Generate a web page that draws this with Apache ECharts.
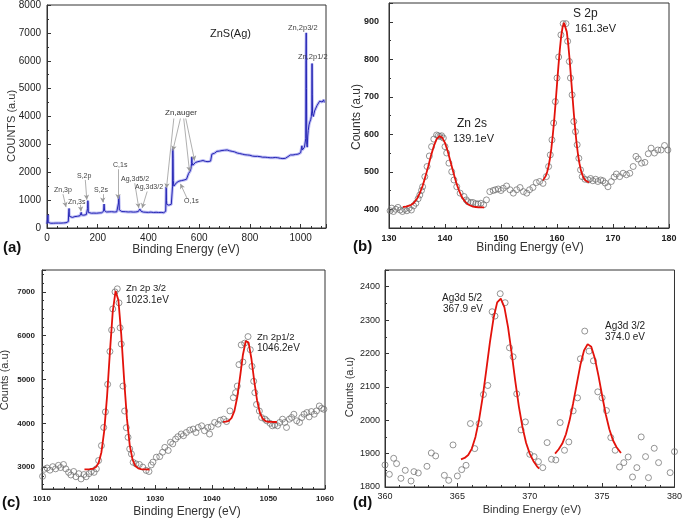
<!DOCTYPE html>
<html><head><meta charset="utf-8">
<script src="https://cdn.jsdelivr.net/npm/echarts/dist/echarts.min.js"></script>
<style>html,body{margin:0;padding:0;background:#fff}#c{width:685px;height:520px}</style>
</head><body><div id="c"></div>
<script>
// ---------- DATA ----------
// (a) survey spectrum [binding energy eV, counts]
const surveyData = [[0,150],[2,160],[4,470],[5,200],[7,160],[10,165],[15,170],[20,168],[25,172],[30,170],[35,175],[40,172],[45,176],[50,178],[55,175],[60,180],[65,182],[70,185],[75,190],[80,200],[84,230],[86,600],[87,700],[88,420],[90,360],[95,350],[100,380],[105,400],[110,410],[115,400],[120,420],[125,430],[130,440],[133,450],[135,560],[136,470],[140,450],[145,460],[150,470],[155,480],[158,500],[160,700],[161,980],[162,900],[163,560],[165,510],[170,520],[175,530],[180,520],[185,535],[190,540],[195,530],[200,545],[205,540],[210,550],[215,545],[220,560],[223,600],[225,860],[226,800],[227,620],[230,570],[235,575],[240,565],[245,580],[250,570],[255,585],[260,580],[265,575],[270,590],[275,580],[280,600],[282,900],[283,1180],[284,1000],[285,650],[287,600],[290,585],[295,590],[300,580],[310,585],[320,575],[330,580],[340,570],[350,575],[360,590],[363,640],[366,680],[368,650],[371,600],[374,640],[377,600],[380,570],[390,565],[400,560],[410,570],[420,555],[430,565],[440,555],[450,560],[460,550],[465,560],[468,600],[469,1000],[470,1480],[471,1000],[472,850],[475,830],[480,820],[485,860],[490,850],[493,900],[495,1500],[496,2850],[497,2500],[498,1700],[500,1500],[505,1550],[510,1620],[515,1600],[520,1680],[525,1620],[530,1700],[535,1650],[540,1720],[545,1680],[550,1750],[555,1800],[558,1950],[560,2000],[562,1900],[565,2050],[568,2150],[570,2300],[571,2550],[572,2350],[575,2250],[580,2300],[585,2350],[590,2320],[595,2380],[600,2350],[605,2400],[610,2380],[615,2420],[620,2350],[625,2390],[630,2420],[635,2380],[640,2430],[645,2400],[648,2450],[650,2650],[655,2700],[660,2680],[665,2720],[670,2750],[675,2730],[680,2760],[685,2740],[690,2780],[695,2760],[700,2790],[705,2770],[710,2800],[715,2760],[720,2770],[725,2740],[730,2750],[735,2720],[740,2730],[745,2700],[750,2690],[755,2680],[760,2670],[765,2660],[770,2650],[775,2640],[780,2630],[785,2620],[790,2620],[795,2600],[800,2610],[805,2590],[810,2580],[815,2590],[820,2570],[825,2560],[830,2570],[835,2550],[840,2560],[845,2550],[850,2540],[855,2550],[860,2540],[865,2550],[870,2530],[875,2540],[880,2520],[885,2530],[890,2520],[895,2510],[900,2530],[905,2500],[910,2520],[915,2510],[920,2500],[925,2520],[930,2490],[935,2510],[940,2500],[945,2520],[950,2560],[955,2600],[960,2620],[965,2640],[970,2620],[975,2650],[980,2640],[985,2620],[990,2650],[995,2680],[1000,2700],[1003,2750],[1005,2950],[1007,2800],[1010,2850],[1015,2900],[1018,2950],[1020,3200],[1021,6000],[1022,7000],[1023,5000],[1024,3000],[1026,2900],[1028,3300],[1030,3500],[1033,3700],[1036,3800],[1040,3900],[1042,4000],[1044,4200],[1045,5900],[1046,4800],[1047,4100],[1050,4000],[1055,4200],[1060,4300],[1065,4400],[1070,4450],[1075,4550],[1080,4500],[1085,4520],[1088,4480],[1091,4600],[1093,4500]];
// (a) annotation leader lines [from, to] in data units
const surveyLeaders = [
  [[63,1214],[75,750]], [[132,833],[134,595]], [[151,1726],[157,1012]], [[220,1214],[220,917]],
  [[280,2107],[280,1036]], [[346,1607],[362,714]], [[395,1310],[375,714]],
  [[500,3929],[471,1429]], [[526,3929],[496,2774]], [[539,3929],[562,2024]], [[547,3929],[582,2417]],
  [[553,1048],[526,1583]]
];
// (b) S 2p / Zn 2s region
const bCircles = [[130.2,396],[130.5,403],[130.8,394],[131.2,400],[131.6,405],[132.0,398],[132.4,394],[132.8,400],[133.2,396],[133.6,403],[134.0,398],[134.4,409],[134.8,416],[135.2,428],[135.5,438],[135.8,450],[136.0,460],[136.4,487],[136.8,514],[137.2,542],[137.6,567],[138.0,587],[138.5,598],[138.8,596],[139.1,594],[139.4,596],[139.7,590],[140.0,567],[140.3,550],[140.7,523],[141.2,500],[141.6,478],[142.1,460],[142.7,443],[143.4,434],[143.8,425],[144.1,420],[144.6,418],[145.0,418],[145.5,415],[145.9,414],[146.4,416],[146.9,412],[147.4,425],[148.0,447],[148.6,450],[149.0,452],[149.5,454],[150.0,450],[150.4,456],[151.0,462],[151.6,452],[152.2,443],[152.8,452],[153.4,458],[154.0,447],[154.6,443],[155.1,452],[155.7,458],[156.3,471],[156.9,474],[157.5,469],[158.1,487],[158.5,514],[158.8,545],[159.1,585],[159.4,630],[159.7,687],[160.0,750],[160.3,806],[160.7,865],[161.1,895],[161.6,895],[161.9,848],[162.2,794],[162.4,750],[162.7,705],[163.0,634],[163.3,607],[163.6,572],[163.9,536],[164.2,505],[164.5,487],[165.0,480],[165.6,478],[166.0,482],[166.4,476],[166.9,480],[167.3,474],[167.8,478],[168.2,476],[168.6,470],[169.1,460],[169.7,474],[170.2,486],[170.6,494],[171.2,487],[171.8,496],[172.4,492],[173.0,496],[173.6,514],[174.1,541],[174.5,534],[175.1,523],[175.7,525],[176.3,548],[176.8,563],[177.4,550],[178.0,558],[178.6,558],[179.2,570],[179.8,558]];
const bFitZn2s = [[132.5,406],[133,407],[133.5,409],[134,412],[134.5,418],[135,428],[135.5,443],[136,462],[136.5,487],[137,514],[137.5,543],[138,568],[138.5,587],[139,595],[139.5,591],[140,577],[140.5,554],[141,526],[141.5,498],[142,471],[142.5,450],[143,433],[143.5,422],[144,414],[144.5,410],[145,407],[145.5,406],[146,405],[146.5,405],[147,405]];
const bFitS2p = [[157.5,477],[157.75,481],[158,489],[158.25,500],[158.5,515],[158.75,536],[159,563],[159.25,598],[159.5,638],[159.75,684],[160,733],[160.25,781],[160.5,825],[160.75,862],[161,886],[161.25,897],[161.5,892],[161.75,873],[162,841],[162.25,800],[162.5,752],[162.75,704],[163,656],[163.25,613],[163.5,576],[163.75,546],[164,523],[164.25,505],[164.5,493],[164.75,484],[165,478],[165.25,475],[165.5,473],[165.75,472]];
// (c) Zn 2p region
const cCircles = [[1010.1,2790],[1010.4,2950],[1010.9,2980],[1011.4,2930],[1011.9,3010],[1012.4,2960],[1012.9,3040],[1013.3,2990],[1013.8,3060],[1014.2,2960],[1014.7,2880],[1015.1,2820],[1015.6,2900],[1016.0,2780],[1016.5,2850],[1016.9,2730],[1017.4,2830],[1017.8,2780],[1018.3,2850],[1018.7,2900],[1019.2,2880],[1019.6,2960],[1020.0,3150],[1020.5,3490],[1020.9,3905],[1021.2,4260],[1021.6,4890],[1022.0,5640],[1022.3,6130],[1022.5,6610],[1022.9,7000],[1023.3,7070],[1023.6,6750],[1023.8,6180],[1024.0,5810],[1024.3,4850],[1024.6,4280],[1024.9,3900],[1025.2,3680],[1025.5,3415],[1025.8,3300],[1026.1,3110],[1026.6,3075],[1027.2,3060],[1027.8,3000],[1028.4,2925],[1028.9,2900],[1029.3,3050],[1029.6,3113],[1030.2,3226],[1030.8,3240],[1031.3,3340],[1031.7,3450],[1032.3,3380],[1032.7,3566],[1033.1,3530],[1033.6,3640],[1034.0,3694],[1034.6,3755],[1035.0,3717],[1035.5,3790],[1036.1,3845],[1036.7,3868],[1037.2,3790],[1037.6,3905],[1038.2,3943],[1038.7,3830],[1039.3,3905],[1039.6,3755],[1039.9,3920],[1040.5,4020],[1041.1,3980],[1041.5,4070],[1042.1,4094],[1042.6,4040],[1043.2,4283],[1043.8,4585],[1044.2,4700],[1044.5,4850],[1044.8,5340],[1045.2,5790],[1045.5,5400],[1045.8,5830],[1046.4,5980],[1046.8,5680],[1047.1,5300],[1047.4,4960],[1047.6,4700],[1047.9,4430],[1048.4,4280],[1048.8,4130],[1049.4,4095],[1049.7,4057],[1050.3,4000],[1050.7,3943],[1051.1,3966],[1051.6,3943],[1052.0,4020],[1052.5,4094],[1052.9,4020],[1053.2,3905],[1053.7,4094],[1054.1,4132],[1054.5,4207],[1055.0,4057],[1055.5,4020],[1055.9,4132],[1056.3,4207],[1056.8,4245],[1057.2,4147],[1057.6,4268],[1058.1,4207],[1058.5,4283],[1059.0,4396],[1059.4,4343],[1059.8,4320]];
const cFit32 = [[1017.5,2950],[1018,2950],[1018.5,2953],[1019,2962],[1019.5,2995],[1020,3095],[1020.5,3340],[1021,3833],[1021.5,4627],[1022,5631],[1022.5,6550],[1023,7022],[1023.5,6810],[1024,6030],[1024.5,5015],[1025,4117],[1025.5,3502],[1026,3170],[1026.5,3024],[1027,2971],[1027.5,2955],[1028,2950],[1028.5,2948],[1029,2945]];
const cFit12 = [[1042,4031],[1042.5,4037],[1043,4057],[1043.5,4122],[1044,4284],[1044.5,4600],[1045,5067],[1045.5,5566],[1046,5880],[1046.5,5842],[1047,5474],[1047.5,4965],[1048,4523],[1048.5,4241],[1049,4103],[1049.5,4051],[1050,4035],[1050.5,4031],[1051,4030],[1051.5,4030]];
// (d) Ag 3d region
const dCircles = [[360.0,1866],[360.3,1838],[360.6,1886],[360.8,1870],[361.1,1826],[361.4,1850],[361.8,1818],[362.0,1846],[362.3,1842],[362.9,1862],[363.2,1902],[363.5,1893],[364.1,1835],[364.4,1820],[364.7,1926],[365.0,1833],[365.3,1852],[365.6,1865],[365.9,1990],[366.2,1915],[366.5,1990],[366.8,2077],[367.1,2104],[367.4,2325],[367.6,2312],[367.96,2379],[368.3,2352],[368.6,2217],[368.85,2190],[369.1,2079],[369.4,1971],[369.7,1995],[370.0,1898],[370.3,1891],[370.6,1876],[370.9,1858],[371.2,1933],[371.5,1883],[371.8,1881],[372.1,1993],[372.4,1910],[372.7,1935],[373.0,2028],[373.3,2067],[373.5,2184],[373.8,2267],[374.1,2207],[374.4,2178],[374.7,2085],[375.0,2067],[375.3,2029],[375.6,1948],[375.9,1910],[376.2,1860],[376.5,1873],[376.8,1890],[377.1,1830],[377.4,1858],[377.7,1950],[378.0,1891],[378.2,1828],[378.6,1916],[378.9,1873],[379.7,1843],[380.0,1906]];
const dFit52 = [[365.25,1883],[365.5,1887],[365.75,1896],[366,1915],[366.25,1950],[366.5,2002],[366.75,2070],[367,2151],[367.25,2234],[367.5,2306],[367.75,2353],[368,2364],[368.25,2338],[368.5,2279],[368.75,2201],[369,2117],[369.25,2041],[369.5,1979],[369.75,1932],[370,1900],[370.25,1878],[370.5,1862],[370.65,1855]];
const dFit32 = [[371.75,1900],[372,1913],[372.25,1930],[372.5,1958],[372.75,1999],[373,2051],[373.25,2109],[373.5,2166],[373.75,2209],[374,2228],[374.25,2220],[374.5,2185],[374.75,2133],[375,2074],[375.25,2018],[375.5,1973],[375.75,1940],[376,1919],[376.25,1905],[376.3,1902]];

// ---------- CHART ----------
const FF = 'Liberation Sans, Arial, sans-serif';
const AX = '#333';
const chart = echarts.init(document.getElementById('c'), null, {renderer:'canvas'});

function xAx(grid, min, max, interval, fs, bold, margin) {
  return {type:'value', gridIndex:grid, min, max, interval,
    axisLine:{show:true, lineStyle:{color:AX, width:1}},
    axisTick:{show:true, inside:true, length:4, lineStyle:{color:AX}},
    minorTick:{show:true, splitNumber:5, length:2, lineStyle:{color:AX}},
    splitLine:{show:false},
    axisLabel:{fontFamily:FF, fontSize:fs, fontWeight:bold?'bold':'normal', color:'#222', margin,
      formatter:v => (Math.abs(v/interval - Math.round(v/interval))<1e-6 && v<=max) ? String(v) : ''}};
}
function yAx(grid, min, max, step, opts, fs, bold, margin, minor) {
  return Object.assign({type:'value', gridIndex:grid, min, max,
    axisLine:{show:true, lineStyle:{color:AX, width:1}},
    axisTick:{show:true, inside:true, length:4, lineStyle:{color:AX}},
    minorTick:{show:true, splitNumber:minor, length:2, lineStyle:{color:AX}},
    splitLine:{show:false},
    axisLabel:{fontFamily:FF, fontSize:fs, fontWeight:bold?'bold':'normal', color:'#222', margin,
      formatter:v => (Math.abs(v % step) < 1e-6) ? String(v) : ''}}, opts);
}
const circleStyle = {color:'rgba(0,0,0,0)', borderColor:'#6b6b6b', borderWidth:0.9};
const RED = '#e3120b';
function scat(i, data, size) {
  return {type:'scatter', xAxisIndex:i, yAxisIndex:i, data, symbol:'circle', symbolSize:size,
    itemStyle:circleStyle, silent:true, z:2};
}
function fit(i, data) {
  return {type:'line', xAxisIndex:i, yAxisIndex:i, data, showSymbol:false, silent:true, z:3,
    lineStyle:{color:RED, width:1.8}};
}
function txt(t, x, y, size, o) {
  o = o || {};
  return {type:'text', x, y, rotation:o.rot||0, silent:true, z:10,
    style:{text:t, font:(o.bold?'bold ':'')+size+'px '+FF, fill:o.color||'#222',
      textAlign:o.align||'left', textVerticalAlign:'middle'}};
}

const gridBase = {show:true, borderColor:AX, borderWidth:1, backgroundColor:'transparent'};

const option = {
  animation:false,
  backgroundColor:'#fff',
  grid:[
    Object.assign({left:47, top:4, width:279, height:224}, gridBase),
    Object.assign({left:389, top:3, width:280, height:225}, gridBase),
    Object.assign({left:42, top:270, width:283, height:219}, gridBase),
    Object.assign({left:385, top:270, width:292, height:217}, gridBase)
  ],
  xAxis:[
    xAx(0, 0, 1100, 200, 10, false, 5),
    xAx(1, 130, 180, 10, 9, true, 6),
    xAx(2, 1010, 1060, 10, 8, true, 6),
    xAx(3, 360, 380, 5, 9, false, 5)
  ],
  yAxis:[
    yAx(0, 0, 8000, 1000, {interval:1000}, 10, false, 6, 2),
    yAx(1, 350, 950, 100, {splitNumber:6}, 9, true, 10, 2),
    yAx(2, 2500, 7500, 1000, {splitNumber:5}, 8, true, 7, 5),
    yAx(3, 1800, 2450, 100, {splitNumber:6}, 9, false, 5, 2)
  ],
  series:[
    {type:'line', xAxisIndex:0, yAxisIndex:0, data:surveyData, showSymbol:false, silent:true,
      lineStyle:{color:'rgba(110,110,230,0.45)', width:3}},
    {type:'line', xAxisIndex:0, yAxisIndex:0, data:surveyData, showSymbol:false, silent:true,
      lineStyle:{color:'#2424b4', width:1},
      markLine:{silent:true, symbol:['none','arrow'], symbolSize:[4,5], animation:false,
        label:{show:false}, lineStyle:{color:'#9a9a9a', width:0.8, type:'solid'},
        emphasis:{disabled:true},
        data:surveyLeaders.map(p => [{coord:p[0]},{coord:p[1]}])}},
    scat(1, bCircles, 6), fit(1, bFitZn2s), fit(1, bFitS2p),
    scat(2, cCircles, 6), fit(2, cFit32), fit(2, cFit12),
    scat(3, dCircles, 6), fit(3, dFit52), fit(3, dFit32)
  ],
  graphic:[
    // axis titles
    txt('Binding Energy (eV)', 186, 250, 12, {align:'center', color:'#333'}),
    txt('COUNTS (a.u)', 12, 126, 11, {align:'center', rot:Math.PI/2, color:'#333'}),
    txt('Binding Energy (eV)', 530, 248, 12, {align:'center', color:'#333'}),
    txt('Counts (a.u)', 357, 117, 12, {align:'center', rot:Math.PI/2, color:'#333'}),
    txt('Binding Energy (eV)', 187, 512, 12, {align:'center', color:'#333'}),
    txt('Counts (a.u)', 5, 380, 11, {align:'center', rot:Math.PI/2, color:'#333'}),
    txt('Binding Energy (eV)', 532, 510, 11, {align:'center', color:'#333'}),
    txt('Counts (a.u)', 350, 387, 11, {align:'center', rot:Math.PI/2, color:'#333'}),
    // panel letters
    txt('(a)', 3, 248, 15, {bold:true, color:'#111'}),
    txt('(b)', 353, 247, 15, {bold:true, color:'#111'}),
    txt('(c)', 2, 503, 15, {bold:true, color:'#111'}),
    txt('(d)', 353, 503, 15, {bold:true, color:'#111'}),
    // (a) annotations
    txt('ZnS(Ag)', 210, 34, 11),
    txt('Zn,2p3/2', 288, 28, 7.5, {color:'#444'}),
    txt('Zn,2p1/2', 298, 57, 7.5, {color:'#444'}),
    txt('Zn,auger', 165, 113, 8, {color:'#333'}),
    txt('C,1s', 113, 165, 7, {color:'#444'}),
    txt('Ag,3d5/2', 121, 179, 7, {color:'#444'}),
    txt('Ag,3d3/2', 135, 187, 7, {color:'#444'}),
    txt('S,2p', 77, 176, 7, {color:'#444'}),
    txt('Zn,3p', 54, 190, 7, {color:'#444'}),
    txt('Zn,3s', 68, 202, 7, {color:'#444'}),
    txt('S,2s', 94, 190, 7, {color:'#444'}),
    txt('O,1s', 184, 201, 7, {color:'#444'}),
    // (b)
    txt('S 2p', 573, 14, 12), txt('161.3eV', 575, 29, 11),
    txt('Zn 2s', 457, 124, 12), txt('139.1eV', 453, 139, 11),
    // (c)
    txt('Zn 2p 3/2', 126, 288, 9.5), txt('1023.1eV', 126, 300, 10),
    txt('Zn 2p1/2', 257, 337, 9.5), txt('1046.2eV', 257, 348, 10),
    // (d)
    txt('Ag3d 5/2', 442, 298, 10), txt('367.9 eV', 443, 309, 10),
    txt('Ag3d 3/2', 605, 326, 10), txt('374.0 eV', 605, 337, 10)
  ]
};
chart.setOption(option);
</script></body></html>
